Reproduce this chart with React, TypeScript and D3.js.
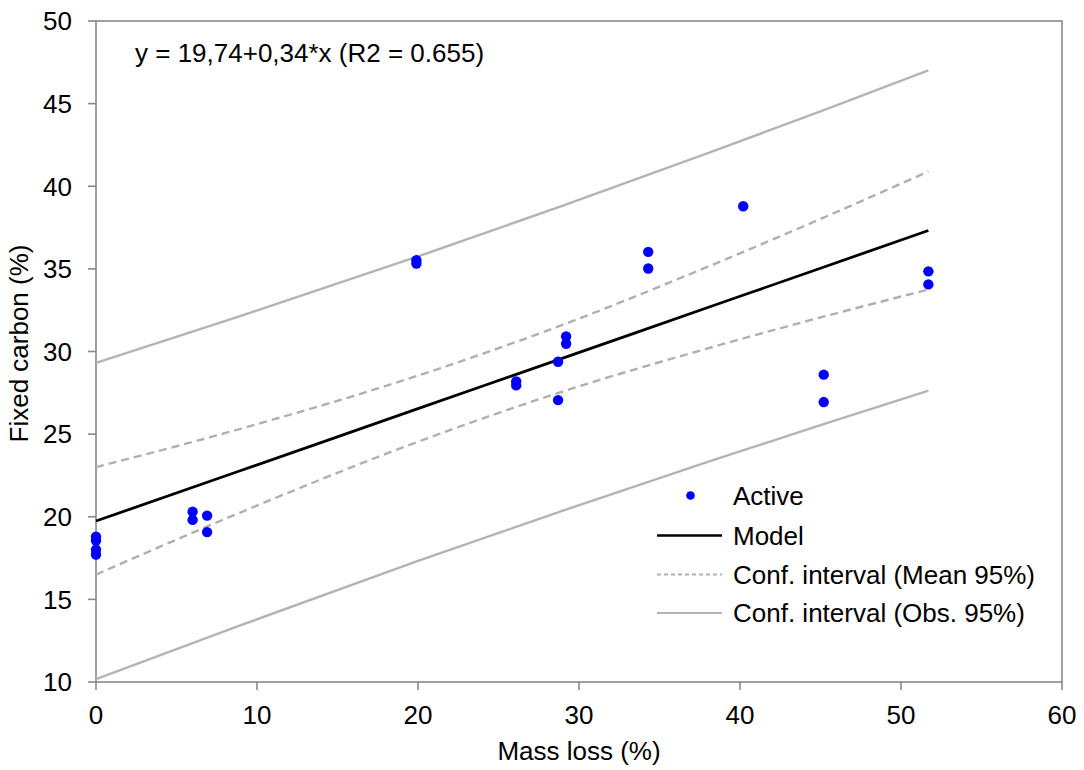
import React from "react";
import * as d3 from "d3";

// Observed data (Active)
const massLoss = [0, 0, 0, 0, 6.0, 6.0, 6.9, 6.9, 19.9, 19.9, 26.1, 26.1, 28.7, 28.7, 29.2, 29.2, 34.3, 34.3, 40.2, 45.2, 45.2, 51.7, 51.7];
const fixedCarbon = [18.8, 18.56, 18.0, 17.71, 20.31, 19.81, 20.07, 19.07, 35.52, 35.32, 28.19, 27.95, 29.38, 27.06, 30.91, 30.47, 36.03, 35.02, 38.79, 28.6, 26.94, 34.85, 34.06];

// Model and interval curves
const curveX = [0, 9, 20, 29, 38, 45, 51.7];
const modelY = [19.74, 22.8, 26.54, 29.6, 32.66, 35.04, 37.32];
const meanUpper = [23.0, 25.33, 28.54, 31.62, 35.13, 38.02, 40.89];
const meanLower = [16.5, 20.27, 24.54, 27.58, 30.19, 32.06, 33.75];
const obsUpper = [29.31, 32.16, 35.75, 38.83, 42.0, 44.53, 47.01];
const obsLower = [10.17, 13.44, 17.33, 20.37, 23.32, 25.55, 27.63];

const xTicks = [0, 10, 20, 30, 40, 50, 60];
const yTicks = [10, 15, 20, 25, 30, 35, 40, 45, 50];
const legendLabels = ["Active", "Model", "Conf. interval (Mean 95%)", "Conf. interval (Obs. 95%)"];
const equation = "y = 19,74+0,34*x (R2 = 0.655)";
const xTitle = "Mass loss (%)";
const yTitle = "Fixed carbon (%)";

const W = 1084;
const H = 770;
const left = 96, right = 1062, top = 21, bottom = 682;
const axisColor = "#898989";
const font = "'Liberation Sans', Arial, sans-serif";
const fs = 26;

export default function App() {
  const x = d3.scaleLinear().domain([0, 60]).range([left, right]);
  const y = d3.scaleLinear().domain([10, 50]).range([bottom, top]);
  const line = (ys: number[]) =>
    d3.line<number>().x((_, i) => x(curveX[i])).y((d) => y(d)).curve(d3.curveMonotoneX)(ys) || "";

  const legX0 = 657, legX1 = 722, legTextX = 733;
  const legY = [495.5, 535.5, 574.5, 613];

  return (
    <svg width={W} height={H} style={{ position: "absolute", left: 0, top: 0, background: "#fff" }} fontFamily={font}>
      <rect x={0} y={0} width={W} height={H} fill="#fff" />
      {/* frame */}
      <rect x={left} y={top} width={right - left} height={bottom - top} fill="none" stroke={axisColor} strokeWidth={1.6} />
      {/* ticks */}
      {yTicks.map((t) => (
        <g key={"y" + t}>
          <line x1={left - 8} x2={left} y1={y(t)} y2={y(t)} stroke={axisColor} strokeWidth={1.6} />
          <text x={72} y={y(t)} dy="0.36em" textAnchor="end" fontSize={fs} fill="#000">{t}</text>
        </g>
      ))}
      {xTicks.map((t) => (
        <g key={"x" + t}>
          <line x1={x(t)} x2={x(t)} y1={bottom} y2={bottom + 8} stroke={axisColor} strokeWidth={1.6} />
          <text x={x(t)} y={724} textAnchor="middle" fontSize={fs} fill="#000">{t}</text>
        </g>
      ))}
      {/* curves */}
      <path d={line(obsUpper)} fill="none" stroke="#b4b4b4" strokeWidth={2.4} />
      <path d={line(obsLower)} fill="none" stroke="#b4b4b4" strokeWidth={2.4} />
      <path d={line(meanUpper)} fill="none" stroke="#b0b0b0" strokeWidth={2.4} strokeDasharray="8,5" />
      <path d={line(meanLower)} fill="none" stroke="#b0b0b0" strokeWidth={2.4} strokeDasharray="8,5" />
      <path d={line(modelY)} fill="none" stroke="#000" strokeWidth={2.8} />
      {/* points */}
      {massLoss.map((m, i) => (
        <circle key={"p" + i} cx={x(m)} cy={y(fixedCarbon[i])} r={5.2} fill="#0000ff" />
      ))}
      {/* equation */}
      <text x={135} y={62} fontSize={fs} fill="#000">{equation}</text>
      {/* legend */}
      <circle cx={690.5} cy={legY[0]} r={4.3} fill="#0000ff" />
      <line x1={legX0} x2={legX1} y1={legY[1]} y2={legY[1]} stroke="#000" strokeWidth={2.6} />
      <line x1={legX0} x2={legX1} y1={legY[2]} y2={legY[2]} stroke="#b0b0b0" strokeWidth={2} strokeDasharray="4,3" />
      <line x1={legX0} x2={legX1} y1={legY[3]} y2={legY[3]} stroke="#b4b4b4" strokeWidth={2.2} />
      {legendLabels.map((l, i) => (
        <text key={l} x={legTextX} y={legY[i]} dy="0.36em" fontSize={fs} fill="#000">{l}</text>
      ))}
      {/* axis titles */}
      <text x={(left + right) / 2} y={760} textAnchor="middle" fontSize={fs} fill="#000">{xTitle}</text>
      <text transform={`translate(28, ${(top + bottom) / 2 - 8}) rotate(-90)`} textAnchor="middle" fontSize={fs} fill="#000">{yTitle}</text>
    </svg>
  );
}
